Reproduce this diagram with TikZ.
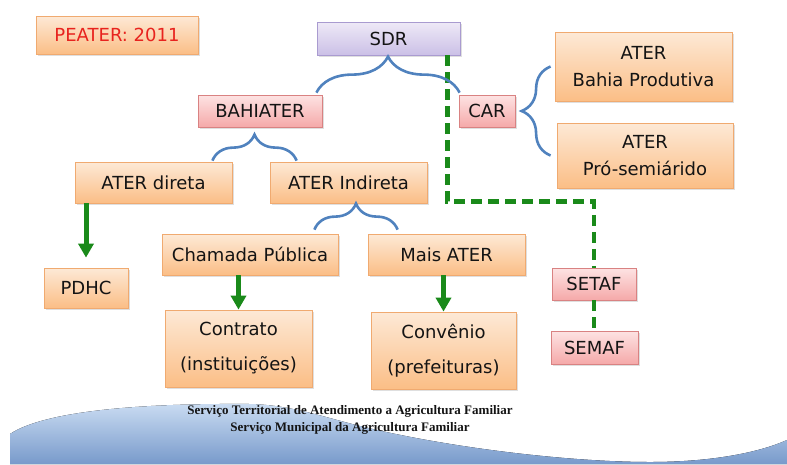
\documentclass[tikz,border=0pt]{standalone}
\usepackage{fontspec}
\setmainfont{DejaVu Sans}
\newfontfamily\notefont{Liberation Serif}
\usepackage{tikz}
\usetikzlibrary{arrows.meta,positioning,shadows,decorations.pathreplacing}
\definecolor{PeachTop}{HTML}{FDE9D6}
\definecolor{PeachBot}{HTML}{FBBE86}
\definecolor{PeachLine}{HTML}{F0AA70}
\definecolor{RoseTop}{HTML}{FDE3E3}
\definecolor{RoseBot}{HTML}{F5A9A9}
\definecolor{RoseLine}{HTML}{D98282}
\definecolor{LilacTop}{HTML}{EEE9F7}
\definecolor{LilacBot}{HTML}{CBC0E6}
\definecolor{LilacLine}{HTML}{A99BD0}
\definecolor{BraceBlue}{HTML}{5082BE}
\definecolor{LinkGreen}{HTML}{1A8A1A}
\definecolor{InkDark}{HTML}{141414}
\definecolor{PeaterRed}{HTML}{E8231E}
\definecolor{SeaTop}{HTML}{CADCF2}
\definecolor{SeaBot}{HTML}{789ACB}

\begin{document}
\begin{tikzpicture}[x=1pt,y=-1pt,
  box/.style={draw=PeachLine,line width=0.8pt,top color=PeachTop,bottom color=PeachBot,
              drop shadow={shadow xshift=1.5pt,shadow yshift=-1.5pt,opacity=0.25},
              font=\fontsize{18}{27}\selectfont,text=InkDark,align=center,inner sep=0pt},
  pinkbox/.style={box,draw=RoseLine,top color=RoseTop,bottom color=RoseBot},
  lilacbox/.style={box,draw=LilacLine,top color=LilacTop,bottom color=LilacBot},
  curly/.style={decorate,decoration={brace,amplitude=#1,aspect=0.5},draw=BraceBlue,line width=2.6pt},
  dashlink/.style={draw=LinkGreen,line width=4.5pt,dash pattern=on 11pt off 6pt},
  flow/.style={-{Triangle[length=14pt,width=15pt]},draw=LinkGreen,line width=5pt}
]
\useasboundingbox (0,0) rectangle (787,464);
% wave at the foot of the slide
\fill[top color=SeaTop,bottom color=SeaBot] (10,464) -- (10,434)
  .. controls (40,414) and (120,403) .. (250,404)
  .. controls (290,405) and (320,416) .. (360,426)
  .. controls (450,448) and (570,462) .. (650,462)
  .. controls (720,462) and (765,450) .. (787,440) -- (787,464) -- cycle;

\node[box,minimum width=162pt,minimum height=38pt,text=PeaterRed] (peater) at (117,35) {PEATER:\ 2011};
\node[lilacbox,minimum width=143pt,minimum height=33pt] (sdr) at (388.5,38.5) {SDR};
\node[pinkbox,minimum width=124pt,minimum height=32pt] (bahiater) at (260,111) {BAHIATER};
\node[pinkbox,minimum width=56pt,minimum height=32pt] (car) at (487,111) {CAR};
\node[box,minimum width=177pt,minimum height=69pt] (bahiaprod) at (643.5,66.5) {ATER\\Bahia Produtiva};
\node[box,minimum width=176pt,minimum height=65pt] (prosemi) at (645,155.5) {ATER\\Pró-semiárido};
\node[box,minimum width=157pt,minimum height=41pt] (direta) at (153.5,182.5) {ATER direta};
\node[box,minimum width=157pt,minimum height=41pt] (indireta) at (348.5,182.5) {ATER Indireta};
\node[box,minimum width=176pt,minimum height=41pt] (chamada) at (250,254.5) {Chamada Pública};
\node[box,minimum width=157pt,minimum height=41pt] (mais) at (446.5,254.5) {Mais ATER};
\node[box,minimum width=84pt,minimum height=40pt] (pdhc) at (86,288) {PDHC};
\node[box,minimum width=147pt,minimum height=77pt] (contrato) at (238.5,348.5) {Contrato\\[8pt](instituições)};
\node[box,minimum width=145pt,minimum height=77pt] (convenio) at (443.5,350.5) {Convênio\\[8pt](prefeituras)};
\node[pinkbox,minimum width=84pt,minimum height=32pt] (setaf) at (594,284) {SETAF};
\node[pinkbox,minimum width=87pt,minimum height=33pt] (semaf) at (594.5,347.5) {SEMAF};
\node[font=\notefont\bfseries\fontsize{13}{17.5}\selectfont,align=center,text=InkDark] (note) at (350,420)
  {Serviço Territorial de Atendimento a Agricultura Familiar\\Serviço Municipal da Agricultura Familiar};

% dashed link to the territorial and municipal services
\draw[dashlink] ([xshift=-13pt]sdr.south east) -- ++(0,146) -| (setaf.north);
\draw[dashlink] (setaf.south) -- (setaf.south |- semaf.north);

% braces
\draw[curly=36pt] ([xshift=-6pt,yshift=2pt]bahiater.north east) -- ([xshift=1pt,yshift=2pt]car.north west);
\draw[curly=26pt] ([xshift=-20pt,yshift=1pt]direta.north east) -- ([xshift=27pt,yshift=1pt]indireta.north west);
\draw[curly=26pt] ([xshift=-24pt,yshift=4pt]chamada.north east) -- ([xshift=30pt,yshift=4pt]mais.north west);
\draw[curly=29pt] ([xshift=-4pt]bahiaprod.west |- prosemi.west) -- ([xshift=-4pt]bahiaprod.west);

\foreach \a/\b/\g in {direta/pdhc/10pt,chamada/contrato/0pt,mais/convenio/0pt}{\draw[flow,shorten >=\g] (\a.south -| \b.north) -- (\b.north);}
\end{tikzpicture}
\end{document}
